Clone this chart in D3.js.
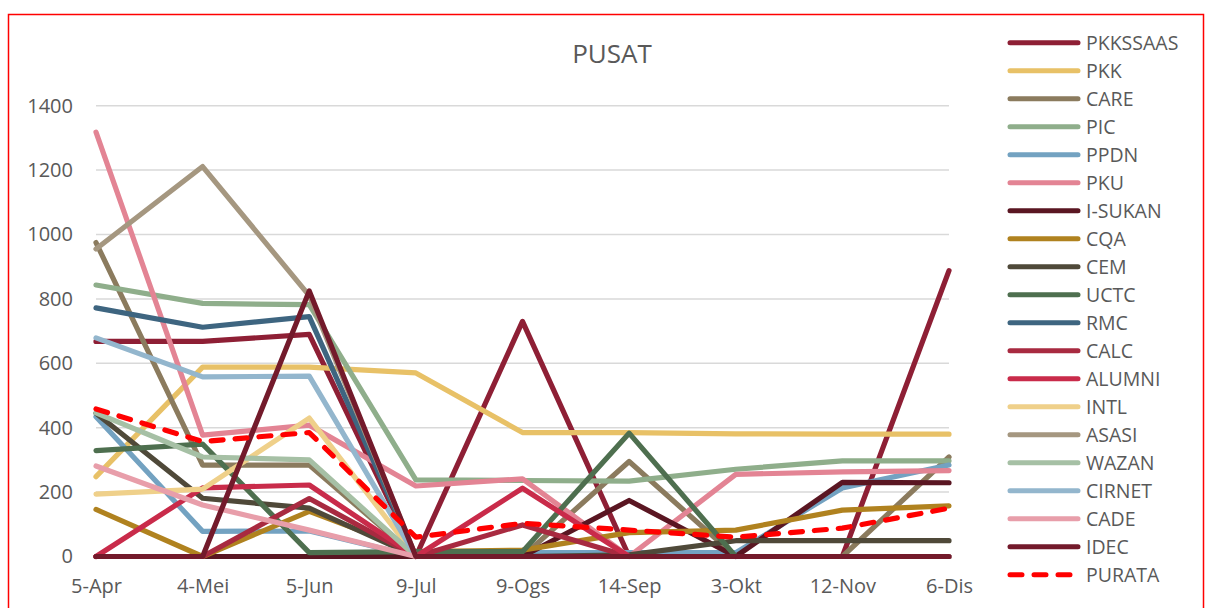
<!DOCTYPE html>
<html>
<head>
<meta charset="utf-8">
<script src="https://cdn.jsdelivr.net/npm/d3@7"></script>
<style>
  body { margin: 0; background: #fff; }
  svg text { font-family: "Open Sans", "Noto Sans", sans-serif; fill: #595959; }
</style>
</head>
<body>
<div id="chart"></div>
<script>
// Categorías (fechas) y valores por serie
const categories = ['5-Apr', '4-Mei', '5-Jun', '9-Jul', '9-Ogs', '14-Sep', '3-Okt', '12-Nov', '6-Dis'];
const yTicks = [0, 200, 400, 600, 800, 1000, 1200, 1400];

const pkkssaas = [668, 668, 690, 0, 730, 0, 0, 0, 888];
const pkk = [248, 588, 588, 570, 385, 385, 381, 380, 380];
const care = [975, 284, 284, 0, 0, 295, 0, 0, 309];
const pic = [843, 786, 782, 238, 236, 234, 271, 297, 297];
const ppdn = [434, 78, 79, 0, 12, 12, 12, 213, 284];
const pku = [1318, 377, 408, 219, 241, 0, 255, 263, 267];
const iSukan = [0, 0, 0, 0, 0, 174, 0, 230, 229];
const cqa = [146, 0, 140, 15, 20, 74, 82, 144, 157];
const cem = [445, 181, 150, 0, 0, 5, 49, 49, 49];
const uctc = [329, 349, 12, 15, 15, 383, 0, 0, 0];
const rmc = [772, 712, 745, 0, 0, 0, 0, 0, 0];
const calc = [0, 0, 180, 0, 98, 0, 0, 0, 0];
const alumni = [0, 213, 222, 0, 212, 0, 0, 0, 0];
const intl = [194, 209, 430, 0, 0, 0, 0, 0, 0];
const asasi = [955, 1211, 810, 0, 0, 0, 0, 0, 0];
const wazan = [446, 309, 300, 0, 0, 0, 0, 0, 0];
const cirnet = [679, 558, 560, 0, 0, 0, 0, 0, 0];
const cade = [281, 160, 82, 0, 0, 0, 0, 0, 0];
const idec = [0, 0, 825, 0, 0, 0, 0, 0, 0];
const purata = [458, 357, 385, 60, 103, 82, 60, 88, 150];

// Tabla de series (orden de dibujo = orden de la leyenda)
const series = [
  { name: 'PKKSSAAS', values: pkkssaas, color: '#8e1f35' },
  { name: 'PKK', values: pkk, color: '#e8c167' },
  { name: 'CARE', values: care, color: '#8b7b5e' },
  { name: 'PIC', values: pic, color: '#8fae8b' },
  { name: 'PPDN', values: ppdn, color: '#73a2c1' },
  { name: 'PKU', values: pku, color: '#e38494' },
  { name: 'I-SUKAN', values: iSukan, color: '#5a1622' },
  { name: 'CQA', values: cqa, color: '#b0821f' },
  { name: 'CEM', values: cem, color: '#4f4939' },
  { name: 'UCTC', values: uctc, color: '#4e6f4f' },
  { name: 'RMC', values: rmc, color: '#3e6580' },
  { name: 'CALC', values: calc, color: '#a82a40' },
  { name: 'ALUMNI', values: alumni, color: '#c92b4a' },
  { name: 'INTL', values: intl, color: '#efd08a' },
  { name: 'ASASI', values: asasi, color: '#a59780' },
  { name: 'WAZAN', values: wazan, color: '#a6c0a5' },
  { name: 'CIRNET', values: cirnet, color: '#93b6cd' },
  { name: 'CADE', values: cade, color: '#e89eaa' },
  { name: 'IDEC', values: idec, color: '#731a2b' },
  { name: 'PURATA', values: purata, color: '#ff0000', dashed: true },
];

const width = 1206;
const height = 608;
const plot = { left: 96, right: 949, top: 105.7, bottom: 556.5 };

const svg = d3.select('#chart')
  .append('svg')
  .attr('width', width)
  .attr('height', height);

// Borde rojo del gráfico
svg.append('rect')
  .attr('x', 8.5)
  .attr('y', 14.5)
  .attr('width', 1195)
  .attr('height', 620)
  .attr('fill', 'none')
  .attr('stroke', '#ff0000')
  .attr('stroke-width', 1.5);

const x = d3.scalePoint().domain(categories).range([plot.left, plot.right]);
const y = d3.scaleLinear().domain([0, 1400]).range([plot.bottom, plot.top]);

// Líneas de cuadrícula
svg.append('g')
  .selectAll('line')
  .data(yTicks)
  .enter()
  .append('line')
  .attr('x1', plot.left)
  .attr('x2', plot.right)
  .attr('y1', (d) => y(d))
  .attr('y2', (d) => y(d))
  .attr('stroke', '#d9d9d9')
  .attr('stroke-width', 1.5);

// Eje Y (solo etiquetas, sin separador de miles)
const yAxis = svg.append('g')
  .attr('transform', `translate(${plot.left},0)`)
  .call(d3.axisLeft(y).tickValues(yTicks).tickFormat(d3.format('d')).tickSize(0).tickPadding(23));
yAxis.select('.domain').remove();
yAxis.selectAll('text').attr('font-size', '20px').style('fill', '#595959');

// Eje X (solo etiquetas)
const xAxis = svg.append('g')
  .attr('transform', `translate(0,${plot.bottom})`)
  .call(d3.axisBottom(x).tickSize(0).tickPadding(22));
xAxis.select('.domain').remove();
xAxis.selectAll('text').attr('font-size', '20px').style('fill', '#595959');

// Dibujar series
const line = d3.line()
  .x((d, i) => x(categories[i]))
  .y((d) => y(d));

svg.append('g')
  .selectAll('path')
  .data(series)
  .enter()
  .append('path')
  .attr('d', (s) => line(s.values))
  .attr('fill', 'none')
  .attr('stroke', (s) => s.color)
  .attr('stroke-width', 5.2)
  .attr('stroke-linejoin', 'round')
  .attr('stroke-linecap', 'round')
  .attr('stroke-dasharray', (s) => (s.dashed ? '12,12' : null));

// Título
svg.append('text')
  .attr('x', 612)
  .attr('y', 63)
  .attr('text-anchor', 'middle')
  .attr('font-size', '26px')
  .text('PUSAT');

// Leyenda
const legend = svg.append('g')
  .selectAll('g')
  .data(series)
  .enter()
  .append('g')
  .attr('transform', (d, i) => `translate(0,${42.7 + i * 28})`);

legend.append('line')
  .attr('x1', 1010)
  .attr('x2', 1078)
  .attr('stroke', (s) => s.color)
  .attr('stroke-width', 5)
  .attr('stroke-linecap', 'round')
  .attr('stroke-dasharray', (s) => (s.dashed ? '12,12' : null));

legend.append('text')
  .attr('x', 1086)
  .attr('dy', '0.36em')
  .attr('font-size', '19.5px')
  .text((s) => s.name);
</script>
</body>
</html>
